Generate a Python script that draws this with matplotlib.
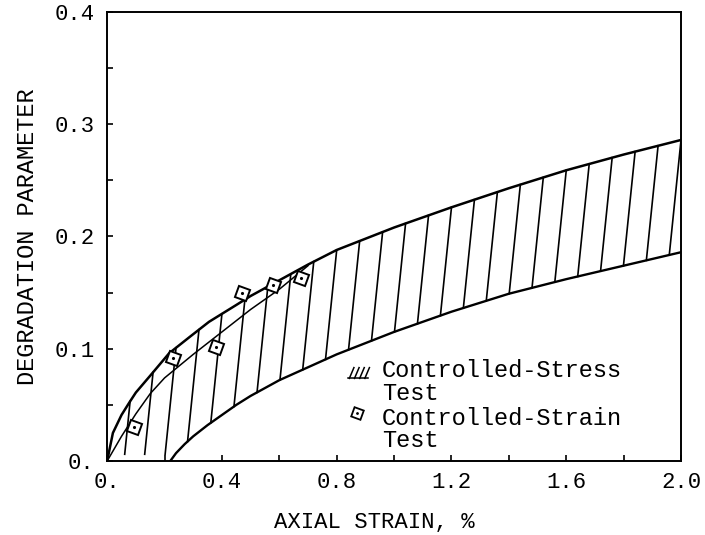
import numpy as np
import matplotlib
matplotlib.use("Agg")
from matplotlib import pyplot as plt

# Upper boundary of the controlled-stress band
upper_x = [0.0, 0.02, 0.05, 0.077, 0.1, 0.15, 0.216, 0.29, 0.355, 0.45, 0.5, 0.6, 0.7, 0.8,
           1.0, 1.2, 1.4, 1.6, 1.8, 2.0]
upper_y = [0.0, 0.025, 0.041, 0.052, 0.061, 0.076, 0.096, 0.111, 0.124, 0.139, 0.147, 0.161,
           0.175, 0.188, 0.208, 0.226, 0.243, 0.259, 0.273, 0.286]

# Thin inner curve near the top of the band
inner_x = [0.0, 0.05, 0.1, 0.15, 0.2, 0.3, 0.4, 0.5, 0.6, 0.7]
inner_y = [0.0, 0.022, 0.042, 0.06, 0.074, 0.095, 0.115, 0.135, 0.153, 0.174]

# Lower boundary of the band
lower_x = [0.22, 0.24, 0.27, 0.3, 0.35, 0.4, 0.45, 0.5, 0.6, 0.8, 1.0, 1.2, 1.4, 1.6, 1.8, 2.0]
lower_y = [0.0, 0.007, 0.015, 0.022, 0.032, 0.041, 0.05, 0.058, 0.072, 0.095, 0.115, 0.133,
           0.149, 0.162, 0.174, 0.186]

# Controlled-strain test points
strain_x = [0.094, 0.23, 0.38, 0.47, 0.578, 0.676]
strain_y = [0.030, 0.092, 0.102, 0.150, 0.157, 0.163]

x_ticks = [0.0, 0.4, 0.8, 1.2, 1.6, 2.0]
x_tick_labels = ["0.", "0.4", "0.8", "1.2", "1.6", "2.0"]
y_ticks = [0.0, 0.1, 0.2, 0.3, 0.4]
y_tick_labels = ["0.", "0.1", "0.2", "0.3", "0.4"]

plt.rcParams['font.family'] = ['Liberation Mono', 'DejaVu Sans Mono']

fig = plt.figure(figsize=(7.05, 5.35), dpi=100)
ax = fig.add_axes([0.152, 0.1383, 0.814, 0.8393])

ax.plot(upper_x, upper_y, color='black', lw=1.8)
ax.plot(inner_x, inner_y, color='black', lw=1.1)
ax.plot(lower_x, lower_y, color='black', lw=1.7)

# slanted hatch lines between the two boundaries
hatch_step = 0.08
slant = 0.4
for xt in np.arange(hatch_step, 2.0 + 1e-9, hatch_step):
    yt = np.interp(xt, upper_x, upper_y)
    yb = 0.0
    xb = xt
    for _ in range(8):
        xb = xt - slant * (yt - yb)
        yb = max(np.interp(xb, lower_x, lower_y, left=0.0), 0.006)
    ax.plot([xb, xt], [yb, yt], color='black', lw=1.2)

ax.plot(strain_x, strain_y, linestyle='None', marker=(4, 0, 25), markersize=12,
        markerfacecolor='white', markeredgecolor='black', markeredgewidth=1.4, zorder=5)
ax.plot(strain_x, strain_y, linestyle='None', marker='.', markersize=2.5, color='black', zorder=6)

ax.set_xlim(0, 2.0)
ax.set_ylim(0, 0.4)
ax.set_xticks(x_ticks)
ax.set_xticklabels(x_tick_labels)
ax.set_yticks(y_ticks)
ax.set_yticklabels(y_tick_labels)
ax.set_xticks(np.arange(0.2, 2.0, 0.4), minor=True)
ax.set_yticks(np.arange(0.05, 0.4, 0.1), minor=True)
ax.tick_params(which='both', direction='in', length=4.5, width=1.2, labelsize=16,
               top=False, right=False)
ax.tick_params(axis='x', pad=8)
ax.tick_params(axis='y', pad=9)
for s in ax.spines.values():
    s.set_linewidth(1.4)

ax.set_xlabel("AXIAL STRAIN, %", fontsize=16)
ax.xaxis.set_label_coords(0.465, -0.138)
ax.xaxis.label.set_va('center')
ax.set_ylabel("DEGRADATION PARAMETER", fontsize=17)
ax.yaxis.set_label_coords(-0.139, 0.5)
ax.yaxis.label.set_va('center')

# legend drawn by hand to keep symbols beside the first lines
for k in range(4):
    x0 = 0.422 + k * 0.009
    ax.plot([x0, x0 + 0.008], [0.184, 0.208], transform=ax.transAxes, color='black', lw=1.1)
ax.plot([0.420, 0.455], [0.184, 0.184], transform=ax.transAxes, color='black', lw=1.1)
ax.plot([0.436], [0.107], transform=ax.transAxes, marker=(4, 0, 25), markersize=10,
        markerfacecolor='white', markeredgecolor='black', markeredgewidth=1.3, clip_on=False)
ax.plot([0.436], [0.107], transform=ax.transAxes, marker='.', markersize=2, color='black')
for txt, yy in [("Controlled-Stress", 0.187), ("Test", 0.136),
                ("Controlled-Strain", 0.080), ("Test", 0.031)]:
    ax.text(0.479, yy, txt, transform=ax.transAxes, fontsize=17, va='baseline', ha='left')

fig.savefig("out.png", dpi=100)
